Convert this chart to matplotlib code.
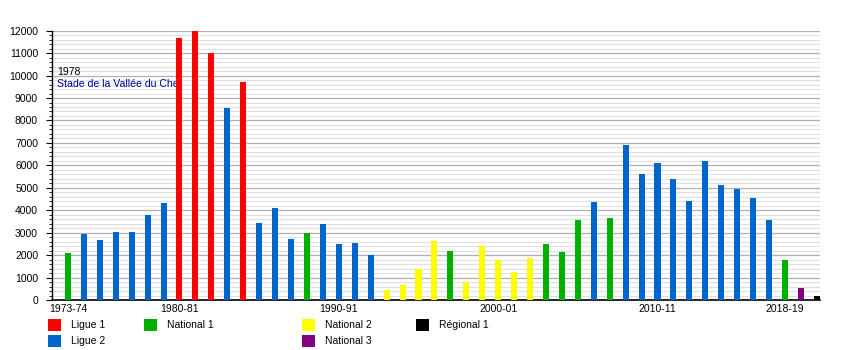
import matplotlib
matplotlib.use("Agg")
import matplotlib.pyplot as plt
from matplotlib.patches import Rectangle
from matplotlib.ticker import MultipleLocator

plt.rcParams['font.family'] = ['Liberation Sans', 'DejaVu Sans']

seasons = ["1973-74", "1974-75", "1975-76", "1976-77", "1977-78", "1978-79",
           "1979-80", "1980-81", "1981-82", "1982-83", "1983-84", "1984-85",
           "1985-86", "1986-87", "1987-88", "1988-89", "1989-90", "1990-91",
           "1991-92", "1992-93", "1993-94", "1994-95", "1995-96", "1996-97",
           "1997-98", "1998-99", "1999-00", "2000-01", "2001-02", "2002-03",
           "2003-04", "2004-05", "2005-06", "2006-07", "2007-08", "2008-09",
           "2009-10", "2010-11", "2011-12", "2012-13", "2013-14", "2014-15",
           "2015-16", "2016-17", "2017-18", "2018-19", "2019-20", "2020-21"]

attendance = [2100, 2950, 2680, 3030, 3030, 3790,
              4320, 11670, 12000, 11000, 8550, 9710,
              3430, 4090, 2730, 3000, 3390, 2500,
              2540, 2010, 450, 670, 1400, 2640,
              2200, 800, 2390, 1780, 1250, 1870,
              2500, 2140, 3560, 4370, 3650, 6900,
              5610, 6100, 5390, 4410, 6190, 5120,
              4950, 4550, 3560, 1780, 540, 180]

division = ["N1", "L2", "L2", "L2", "L2", "L2",
            "L2", "L1", "L1", "L1", "L2", "L1",
            "L2", "L2", "L2", "N1", "L2", "L2",
            "L2", "L2", "N2", "N2", "N2", "N2",
            "N1", "N2", "N2", "N2", "N2", "N2",
            "N1", "N1", "N1", "L2", "N1", "L2",
            "L2", "L2", "L2", "L2", "L2", "L2",
            "L2", "L2", "L2", "N1", "N3", "R1"]

tick_seasons = ["1973-74", "1980-81", "1990-91", "2000-01", "2010-11", "2018-19"]

colors = {"L1": "#ff0000", "L2": "#0066cc", "N1": "#00b000",
          "N2": "#ffff00", "N3": "#800080", "R1": "#000000"}
names = {"L1": "Ligue 1", "L2": "Ligue 2", "N1": "National 1",
         "N2": "National 2", "N3": "National 3", "R1": "Régional 1"}

fig = plt.figure(figsize=(8.5, 3.5), dpi=100)
ax = fig.add_axes([52/850, 50/350, 768/850, 269.3/350])

x = list(range(len(seasons)))
ax.bar(x, attendance, width=0.38, color=[colors[d] for d in division], zorder=3)

ax.set_xlim(-1, 47.2)
ax.set_ylim(0, 12000)
ax.yaxis.set_major_locator(MultipleLocator(1000))
ax.yaxis.set_minor_locator(MultipleLocator(200))
ax.grid(axis='y', which='major', color='#b0b0b0', lw=0.9, zorder=0)
ax.grid(axis='y', which='minor', color='#e0e0e0', lw=0.8, zorder=0)
ax.set_axisbelow(True)

ax.set_xticks([seasons.index(s) for s in tick_seasons])
ax.set_xticklabels(tick_seasons)
ax.tick_params(axis='x', length=0, labelsize=7.5, pad=3)
ax.tick_params(axis='y', which='major', length=4, width=0.8, labelsize=7.5, pad=6)
ax.tick_params(axis='y', which='minor', length=2, width=0.6)

for s in ['top', 'right']:
    ax.spines[s].set_visible(False)
ax.spines['left'].set_linewidth(1)
ax.spines['bottom'].set_linewidth(1.2)

ax.text(-0.69, 10160, "1978", fontsize=7.5, color='black', va='center', ha='left', zorder=2)
ax.text(-0.69, 9625, "Stade de la Vallée du Cher", fontsize=7.6, color='#0000a0',
        va='center', ha='left', zorder=2)

# legend drawn by hand (irregular layout)
legend_pos = {"L1": (48, 319), "L2": (48, 335), "N1": (144, 319),
              "N2": (302, 319), "N3": (302, 335), "R1": (416, 319)}
for key, (px, py) in legend_pos.items():
    fig.add_artist(Rectangle((px/850, 1 - (py + 12)/350), 13/850, 12/350,
                             transform=fig.transFigure, color=colors[key], lw=0))
    fig.text((px + 23)/850, 1 - (py + 6)/350, names[key], fontsize=7.5,
             va='center', ha='left')

fig.savefig("out.png", dpi=100)
